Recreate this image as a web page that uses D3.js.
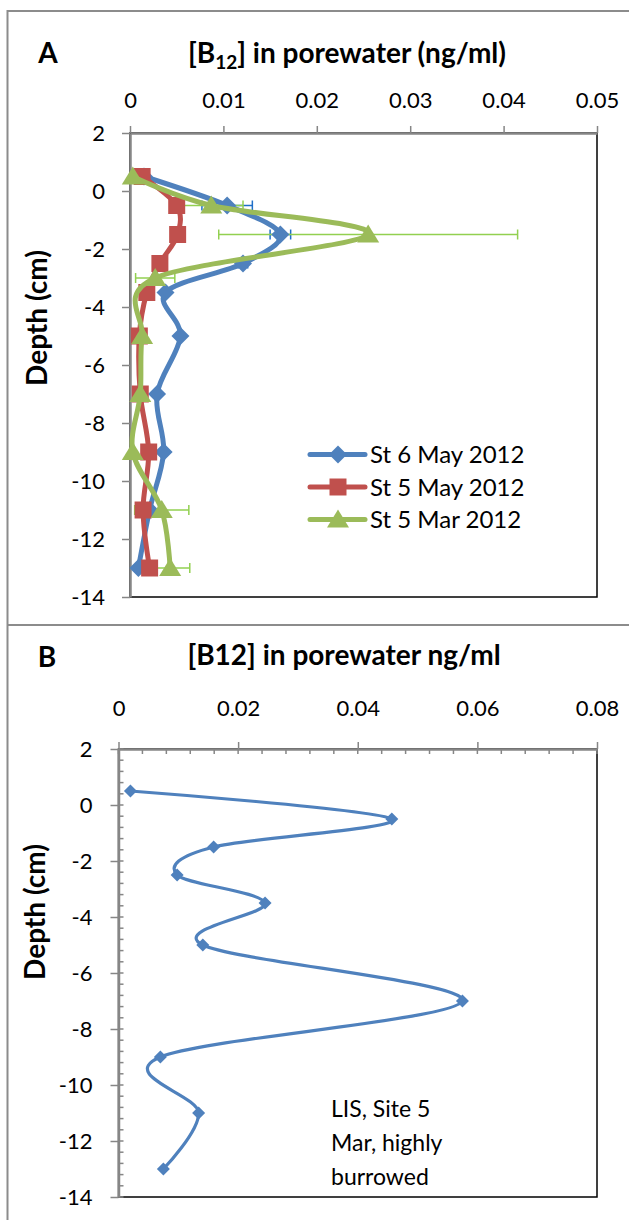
<!DOCTYPE html>
<head>
  <meta charset="utf-8">
  <script src="https://cdn.jsdelivr.net/npm/d3@7"></script>
  <style>
    body { margin:0; padding:0; background:#fff; }
    text { font-family: Lato, "Open Sans", sans-serif; fill:#000; }
  </style>
</head>
<body>
  <svg id="chart" width="629" height="1220"></svg>
  <script>
    // ---- panel A data ----
    var depthA    = [0.5, -0.5, -1.5, -2.5, -3.5, -5, -7, -9, -11, -13];
    var st6May    = [0.0015, 0.0104, 0.0161, 0.0121, 0.0038, 0.0054, 0.0029, 0.0036, 0.0021, 0.0009];
    var st6MayErr = [0, 0.0027, 0.0011, 0.0005, 0, 0, 0, 0, 0, 0];
    var st5May    = [0.0013, 0.0050, 0.0051, 0.0032, 0.0018, 0.0010, 0.0011, 0.0020, 0.0014, 0.0021];
    var depthMar  = [0.5, -0.5, -1.5, -3, -5, -7, -9, -11, -13];
    var st5Mar    = [0.0003, 0.0087, 0.0255, 0.0027, 0.0013, 0.0011, 0.0003, 0.0034, 0.0043];
    var st5MarErr = [0, 0.0034, 0.0160, 0.0021, 0, 0, 0, 0.0029, 0.0021];
    var seriesNames = ["St 6 May 2012", "St 5 May 2012", "St 5 Mar 2012"];
    var xTicksA = [0, 0.01, 0.02, 0.03, 0.04, 0.05];

    // ---- panel B data ----
    var depthB = [0.5, -0.5, -1.5, -2.5, -3.5, -5, -7, -9, -11, -13];
    var marB   = [0.002, 0.0457, 0.0159, 0.0098, 0.0245, 0.0141, 0.0575, 0.0070, 0.0134, 0.0075];
    var xTicksB = [0, 0.02, 0.04, 0.06, 0.08];
    var noteB = ["LIS, Site 5", "Mar, highly", "burrowed"];

    var yTicks = [2, 0, -2, -4, -6, -8, -10, -12, -14];

    var blue = "#4f81bd", red = "#c0504d", green = "#9bbb59";
    var axisGray = "#868686";

    var svg = d3.select("#chart");
    svg.append("rect").attr("width", 629).attr("height", 1220).attr("fill", "#fff");

    // outer frame + divider
    svg.append("path")
      .attr("d", "M7.5,1220V11H629M7.5,625H629")
      .attr("fill", "none").attr("stroke", "#8c8c8c").attr("stroke-width", 2);

    function fmtX(v) { return v === 0 ? "0" : d3.format(".2f")(v); }

    function axes(x, y, xt, opt) {
      var g = svg.append("g");
      var x0 = x.range()[0], x1 = x.range()[1], y0 = y.range()[0], y1 = y.range()[1];
      // plot area border (black right/bottom)
      g.append("rect").attr("x", x0).attr("y", y0).attr("width", x1 - x0).attr("height", y1 - y0)
        .attr("fill", "none").attr("stroke", "#000").attr("stroke-width", 1.5);

      if (opt.minorX) {
        g.append("g").selectAll("line").data(d3.range(0, 0.0801, opt.minorX))
          .join("line").attr("x1", d => x(d)).attr("x2", d => x(d))
          .attr("y1", y0).attr("y2", y0 + 5).attr("stroke", axisGray).attr("stroke-width", 1.5);
        g.append("g").selectAll("line").data(d3.range(2, -14.01, -opt.minorY))
          .join("line").attr("y1", d => y(d)).attr("y2", d => y(d))
          .attr("x1", x0).attr("x2", x0 + 5).attr("stroke", axisGray).attr("stroke-width", 1.5);
      }

      var top = g.append("g").attr("transform", "translate(0," + y0 + ")")
        .call(d3.axisTop(x).tickValues(xt).tickSize(7).tickSizeOuter(0).tickPadding(opt.padX).tickFormat(fmtX));
      var left = g.append("g").attr("transform", "translate(" + x0 + ",0)")
        .call(d3.axisLeft(y).tickValues(yTicks).tickSize(8).tickSizeOuter(0).tickPadding(opt.padY).tickFormat(d => String(d)));
      [top, left].forEach(function(a) {
        a.select(".domain").attr("stroke", axisGray).attr("stroke-width", 2.5);
        a.selectAll(".tick line").attr("stroke", axisGray).attr("stroke-width", 1.5);
        a.selectAll(".tick text").attr("font-size", 22).attr("font-family", "Lato");
      });
    }

    function diamond(r) { return "M0," + (-r) + "L" + r + ",0L0," + r + "L" + (-r) + ",0Z"; }
    function square(r) { return "M" + (-r) + "," + (-r) + "h" + (2 * r) + "v" + (2 * r) + "h" + (-2 * r) + "Z"; }
    function triangle(r) { return "M0," + (-r) + "L" + (r * 1.1) + "," + (r * 0.8) + "L" + (-r * 1.1) + "," + (r * 0.8) + "Z"; }

    // ================= PANEL A =================
    var xA = d3.scaleLinear().domain([0, 0.05]).range([130, 597]);
    var yA = d3.scaleLinear().domain([2, -14]).range([133, 597]);
    axes(xA, yA, xTicksA, { padX: 18, padY: 17 });

    svg.append("text").attr("x", 48).attr("y", 63).attr("text-anchor", "middle")
      .attr("font-size", 28).attr("font-weight", "bold").text("A");
    var tA = svg.append("text").attr("x", 347).attr("y", 63).attr("text-anchor", "middle")
      .attr("font-size", 28).attr("font-weight", "bold");
    tA.append("tspan").text("[B");
    tA.append("tspan").attr("font-size", 19).attr("dy", 6).text("12");
    tA.append("tspan").attr("dy", -6).text("] in porewater (ng/ml)");

    svg.append("text").attr("transform", "translate(47,318) rotate(-90)").attr("text-anchor", "middle")
      .attr("font-size", 28).attr("font-weight", "bold").text("Depth (cm)");

    var seriesA = [
      { name: seriesNames[0], x: st6May, d: depthA, err: st6MayErr, color: blue, mark: diamond(9), errColor: "#1f6fc8" },
      { name: seriesNames[1], x: st5May, d: depthA, err: null, color: red, mark: square(8.5), errColor: red },
      { name: seriesNames[2], x: st5Mar, d: depthMar, err: st5MarErr, color: green, mark: triangle(10), errColor: "#92d050" }
    ];

    var lineA = d3.line().curve(d3.curveCardinal.tension(0));
    var gA = svg.append("g");

    // error bars first
    seriesA.forEach(function(s) {
      if (!s.err) return;
      var pts = s.x.map((v, i) => ({ v: v, d: s.d[i], e: s.err[i] })).filter(p => p.e > 0);
      var eg = gA.append("g").attr("stroke", s.errColor).attr("stroke-width", 1.5);
      eg.selectAll(".bar").data(pts).join("line")
        .attr("x1", p => xA(p.v - p.e)).attr("x2", p => xA(p.v + p.e))
        .attr("y1", p => yA(p.d)).attr("y2", p => yA(p.d));
      eg.selectAll(".capl").data(pts).join("line")
        .attr("x1", p => xA(p.v - p.e)).attr("x2", p => xA(p.v - p.e))
        .attr("y1", p => yA(p.d) - 5).attr("y2", p => yA(p.d) + 5);
      eg.selectAll(".capr").data(pts).join("line")
        .attr("x1", p => xA(p.v + p.e)).attr("x2", p => xA(p.v + p.e))
        .attr("y1", p => yA(p.d) - 5).attr("y2", p => yA(p.d) + 5);
    });

    seriesA.forEach(function(s) {
      var pts = s.x.map((v, i) => [xA(v), yA(s.d[i])]);
      gA.append("path").attr("d", lineA(pts)).attr("fill", "none")
        .attr("stroke", s.color).attr("stroke-width", 5).attr("stroke-linejoin", "round").attr("stroke-linecap", "round");
      gA.append("g").selectAll("path").data(pts).join("path")
        .attr("transform", p => "translate(" + p[0] + "," + p[1] + ")")
        .attr("d", s.mark).attr("fill", s.color);
    });

    // legend
    var leg = svg.append("g").selectAll("g").data(seriesA).join("g")
      .attr("transform", (s, i) => "translate(338," + (454.5 + i * 32.5) + ")");
    leg.append("line").attr("x1", -28).attr("x2", 27).attr("stroke", s => s.color)
      .attr("stroke-width", 5).attr("stroke-linecap", "round");
    leg.append("path").attr("d", s => s.mark).attr("fill", s => s.color);
    leg.append("text").attr("x", 32).attr("dy", "0.36em").attr("font-size", 24).text(s => s.name);

    // ================= PANEL B =================
    var xB = d3.scaleLinear().domain([0, 0.08]).range([118.5, 597]);
    var yB = d3.scaleLinear().domain([2, -14]).range([749, 1197]);
    axes(xB, yB, xTicksB, { padX: 26, padY: 18, minorX: 0.004, minorY: 0.4 });

    svg.append("text").attr("x", 47).attr("y", 667).attr("text-anchor", "middle")
      .attr("font-size", 28).attr("font-weight", "bold").text("B");
    svg.append("text").attr("x", 344).attr("y", 665).attr("text-anchor", "middle")
      .attr("font-size", 28).attr("font-weight", "bold").text("[B12] in porewater ng/ml");
    svg.append("text").attr("transform", "translate(45,912) rotate(-90)").attr("text-anchor", "middle")
      .attr("font-size", 28).attr("font-weight", "bold").text("Depth (cm)");

    var ptsB = marB.map((v, i) => [xB(v), yB(depthB[i])]);
    svg.append("path").attr("d", lineA(ptsB)).attr("fill", "none")
      .attr("stroke", blue).attr("stroke-width", 3.2).attr("stroke-linejoin", "round");
    svg.append("g").selectAll("path").data(ptsB).join("path")
      .attr("transform", p => "translate(" + p[0] + "," + p[1] + ")")
      .attr("d", diamond(6.5)).attr("fill", blue);

    svg.append("g").selectAll("text").data(noteB).join("text")
      .attr("x", 331).attr("y", (t, i) => 1117 + i * 34)
      .attr("font-size", 23).text(t => t);
  </script>
</body>
